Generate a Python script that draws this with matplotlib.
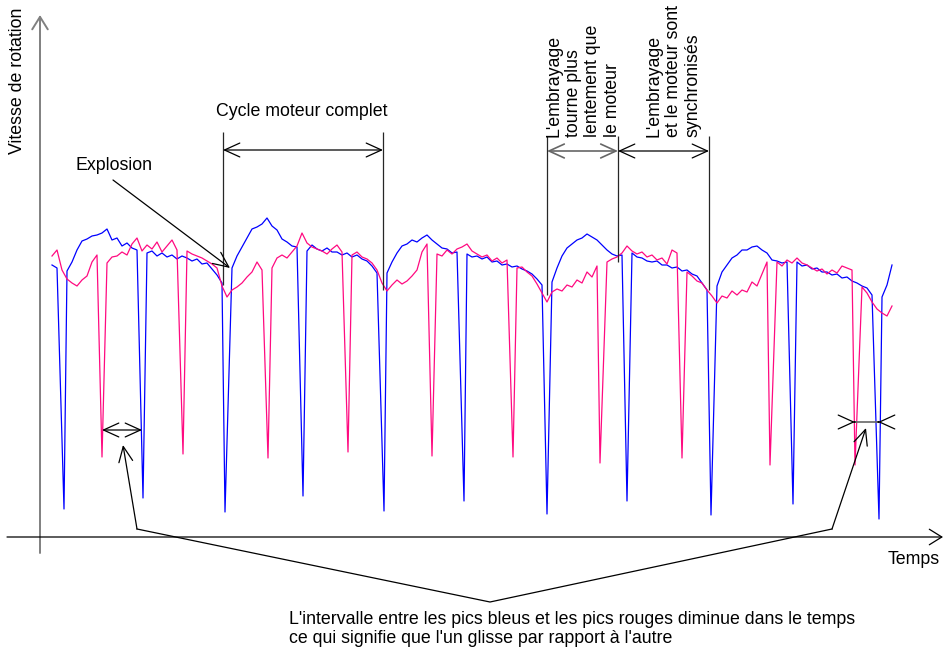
import numpy as np
import matplotlib
matplotlib.use('Agg')
from matplotlib import pyplot as plt

plt.rcParams['font.family'] = ['Liberation Sans', 'DejaVu Sans']

# time samples of the two speed signals (arbitrary units, origin at the speed axis)
t = np.arange(12, 856, 5)

# engine (blue) and clutch (red) speed
blue_speed = np.array([
    272, 269, 261, 266, 275, 287, 296, 298, 301, 302,
    304, 308, 297, 299, 291, 294, 289, 287, 288, 284,
    286, 281, 284, 280, 282, 278, 281, 279, 276, 278,
    273, 274, 268, 262, 254, 261, 269, 281, 290, 299,
    308, 310, 313, 319, 311, 307, 298, 295, 291, 290,
    287, 286, 292, 288, 286, 289, 285, 285, 282, 284,
    280, 282, 278, 276, 271, 264, 256, 264, 275, 284,
    291, 293, 297, 295, 299, 302, 297, 293, 289, 288,
    284, 285, 282, 283, 280, 281, 278, 280, 275, 276,
    272, 273, 270, 271, 268, 266, 263, 258, 252, 247,
    255, 269, 281, 289, 293, 297, 299, 303, 300, 297,
    292, 287, 283, 281, 282, 279, 284, 280, 279, 276,
    275, 276, 272, 272, 269, 270, 266, 267, 263, 261,
    254, 247, 244, 251, 265, 272, 279, 282, 287, 287,
    290, 291, 287, 284, 277, 276, 274, 275, 273, 275,
    271, 272, 268, 269, 265, 265, 262, 263, 259, 260,
    256, 254, 251, 249, 242, 237, 240, 252, 272])

red_speed = np.array([
    281, 287, 267, 258, 254, 251, 257, 261, 275, 282,
    279, 274, 280, 281, 285, 282, 293, 299, 286, 292,
    288, 295, 285, 291, 297, 287, 291, 286, 283, 281,
    279, 276, 273, 269, 251, 240, 247, 250, 254, 260,
    265, 275, 267, 275, 269, 279, 282, 279, 285, 291,
    304, 294, 290, 288, 286, 283, 288, 292, 285, 287,
    282, 285, 280, 278, 274, 267, 254, 246, 252, 257,
    253, 256, 261, 267, 285, 293, 285, 283, 281, 287,
    283, 288, 290, 293, 286, 283, 280, 282, 276, 279,
    274, 277, 273, 269, 270, 265, 261, 253, 244, 235,
    245, 248, 246, 252, 250, 257, 254, 265, 260, 271,
    269, 275, 278, 280, 284, 291, 286, 283, 285, 280,
    282, 277, 279, 273, 287, 284, 279, 265, 261, 256,
    254, 247, 241, 234, 241, 239, 246, 242, 247, 245,
    255, 251, 263, 275, 271, 275, 271, 277, 274, 279,
    274, 272, 269, 266, 268, 263, 267, 264, 271, 269,
    267, 256, 250, 244, 235, 228, 224, 221, 231])

# sharp dips (explosions / pulses)
blue_spike_t = [24, 103, 185, 263, 344, 424, 507, 587, 671, 753, 839]
blue_spike_v = [28, 39, 25, 41, 26, 36, 23, 36, 22, 33, 18]
red_spike_t = [62, 143, 228, 308, 392, 473, 560, 642, 730, 815]
red_spike_v = [80, 83, 79, 85, 81, 80, 74, 79, 72, 72]


def add_spikes(t, v, st, sv):
    st = np.asarray(st)
    sv = np.asarray(sv)
    keep = np.min(np.abs(t[:, None] - st[None, :]), axis=1) > 2.5
    tt = np.concatenate([t[keep], st])
    vv = np.concatenate([v[keep], sv])
    o = np.argsort(tt)
    return tt[o], vv[o]


def arrow(ax, xy, xytext, style='->', color='black', lw=0.9):
    ax.annotate('', xy=xy, xytext=xytext,
                arrowprops=dict(arrowstyle=style + ',head_length=0.55,head_width=0.25',
                                color=color, lw=lw, shrinkA=0, shrinkB=0,
                                mutation_scale=20))


bt, bv = add_spikes(t, blue_speed, blue_spike_t, blue_spike_v)
rt, rv = add_spikes(t, red_speed, red_spike_t, red_spike_v)

fig = plt.figure(figsize=(9.43, 6.53), dpi=100)
ax = fig.add_axes([0, 0, 1, 1])
ax.set_xlim(-40, 903)
ax.set_ylim(-116, 537)
ax.axis('off')

ax.plot(bt, bv, color='#0000ff', lw=0.9)
ax.plot(rt, rv, color='#ff0a80', lw=0.9)

# axes
ax.annotate('', xy=(0, 522), xytext=(0, -16),
            arrowprops=dict(arrowstyle='->,head_length=0.45,head_width=0.28',
                            color='0.5', lw=1.4, shrinkA=0, shrinkB=0, mutation_scale=20))
ax.annotate('', xy=(903, 0), xytext=(-33, 0),
            arrowprops=dict(arrowstyle='->,head_length=0.45,head_width=0.28',
                            color='black', lw=0.9, shrinkA=0, shrinkB=0, mutation_scale=20))

fs = 12.8
ax.text(-22, 456, 'Vitesse de rotation', rotation=90, ha='center', va='center', fontsize=fs)
ax.text(848, -23, 'Temps', ha='left', va='center', fontsize=fs)

# explosion
ax.text(74, 371, 'Explosion', ha='center', va='center', fontsize=fs)
arrow(ax, (190, 269), (73, 357))

# engine cycle
ax.text(262, 426, 'Cycle moteur complet', ha='center', va='center', fontsize=fs)
ax.vlines([183, 343, 507, 578, 669], [252, 247, 242, 275, 247],
          [405, 405, 401, 401, 401], color='0.15', lw=0.9)
arrow(ax, (343, 387), (183, 387), style='<->')

# clutch phases
ax.text(505, 400, "L'embrayage\ntourne plus\nlentement que\nle moteur", rotation=90,
        ha='left', va='bottom', multialignment='left', fontsize=fs)
ax.text(605, 400, "L'embrayage\net le moteur sont\nsynchronisés", rotation=90,
        ha='left', va='bottom', multialignment='left', fontsize=fs)
arrow(ax, (578, 386), (507, 386), style='<->', color='0.4', lw=1.2)
arrow(ax, (669, 386), (578, 386), style='<->')

# interval between blue and red peaks
arrow(ax, (102, 107), (62, 107), style='<->')
ax.plot([815, 838], [115, 115], color='0.4', lw=1.2)
arrow(ax, (815, 115), (814.9, 115))
arrow(ax, (838, 115), (838.1, 115))
ax.plot([97, 450, 792], [8, -65, 8], color='black', lw=0.9)
arrow(ax, (83, 92), (97, 8))
arrow(ax, (826, 109), (792, 8))
ax.text(249, -92, "L'intervalle entre les pics bleus et les pics rouges diminue dans le temps\n"
        "ce qui signifie que l'un glisse par rapport à l'autre",
        ha='left', va='center', multialignment='left', fontsize=fs)

fig.savefig('out.png', dpi=100)
